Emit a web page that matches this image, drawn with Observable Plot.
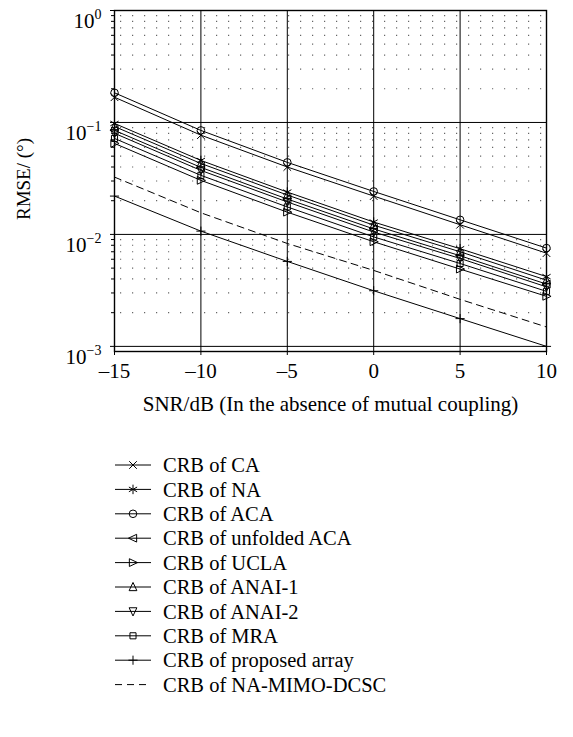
<!DOCTYPE html>
<html>
<head>
<meta charset="utf-8">
<script src="https://cdn.jsdelivr.net/npm/d3@7"></script>
<script src="https://cdn.jsdelivr.net/npm/@observablehq/plot@0.6"></script>
<style>
  body { margin: 0; background: white; }
  #chart svg { display: block; }
</style>
</head>
<body>
<div id="chart"></div>
<script>
// ---- data ----
const snr = [-15, -10, -5, 0, 5, 10];
const seriesNames = [
  "CRB of CA", "CRB of NA", "CRB of ACA", "CRB of unfolded ACA", "CRB of UCLA",
  "CRB of ANAI-1", "CRB of ANAI-2", "CRB of MRA", "CRB of proposed array", "CRB of NA-MIMO-DCSC"
];
const crbCA       = [0.168, 0.077, 0.040, 0.0220, 0.0122, 0.0068];
const crbNA       = [0.098, 0.0458, 0.0239, 0.0129, 0.00745, 0.0042];
const crbACA      = [0.184, 0.0849, 0.044, 0.0242, 0.0135, 0.00755];
const crbUnfolded = [0.085, 0.0397, 0.0207, 0.0112, 0.00645, 0.0036];
const crbUCLA     = [0.065, 0.0304, 0.0158, 0.0086, 0.0049, 0.0028];
const crbANAI1    = [0.092, 0.0430, 0.0225, 0.0121, 0.0070, 0.0039];
const crbANAI2    = [0.080, 0.0373, 0.0195, 0.0105, 0.0061, 0.0034];
const crbMRA      = [0.072, 0.0337, 0.0176, 0.0095, 0.0055, 0.0031];
const crbProposed = [0.022, 0.0107, 0.00574, 0.00314, 0.00177, 0.0010];
const crbMIMO     = [0.0325, 0.0156, 0.0083, 0.00477, 0.00263, 0.00149];
const yMajor = [1, 0.1, 0.01, 0.001];
const yMinor = [
  0.002, 0.003, 0.004, 0.005, 0.006, 0.007, 0.008, 0.009,
  0.02, 0.03, 0.04, 0.05, 0.06, 0.07, 0.08, 0.09,
  0.2, 0.3, 0.4, 0.5, 0.6, 0.7, 0.8, 0.9
];

const allSeries = [crbCA, crbNA, crbACA, crbUnfolded, crbUCLA, crbANAI1, crbANAI2, crbMRA, crbProposed, crbMIMO];
const table = [];
seriesNames.forEach((name, i) => {
  snr.forEach((s, j) => table.push({series: name, snr: s, value: allSeries[i][j]}));
});

// ---- symbols ----
function rad(size) { return Math.sqrt(size / Math.PI); }
const triLeft = {draw(c, size) { const r = rad(size) * 1.2; c.moveTo(-r, 0); c.lineTo(r * 0.8, -r * 0.85); c.lineTo(r * 0.8, r * 0.85); c.closePath(); }};
const triRight = {draw(c, size) { const r = rad(size) * 1.2; c.moveTo(r, 0); c.lineTo(-r * 0.8, -r * 0.85); c.lineTo(-r * 0.8, r * 0.85); c.closePath(); }};
const triUp = {draw(c, size) { const r = rad(size) * 1.2; c.moveTo(0, -r); c.lineTo(-r * 0.85, r * 0.8); c.lineTo(r * 0.85, r * 0.8); c.closePath(); }};
const triDown = {draw(c, size) { const r = rad(size) * 1.2; c.moveTo(0, r); c.lineTo(-r * 0.85, -r * 0.8); c.lineTo(r * 0.85, -r * 0.8); c.closePath(); }};
const squareS = {draw(c, size) { const r = rad(size) * 0.8; c.rect(-r, -r, 2 * r, 2 * r); }};
const circleS = {draw(c, size) { const r = rad(size); c.moveTo(r, 0); c.arc(0, 0, r, 0, 2 * Math.PI); }};
const timesS = {draw(c, size) { const r = rad(size) * 1.0; c.moveTo(-r, -r); c.lineTo(r, r); c.moveTo(r, -r); c.lineTo(-r, r); }};
const plusS = {draw(c, size) { const r = rad(size) * 1.2; c.moveTo(-r, 0); c.lineTo(r, 0); c.moveTo(0, -r); c.lineTo(0, r); }};
const asteriskS = {draw(c, size) {
  const r = rad(size) * 1.25;
  for (let k = 0; k < 3; k++) {
    const a = Math.PI / 2 + k * Math.PI / 3;
    c.moveTo(r * Math.cos(a), r * Math.sin(a)); c.lineTo(-r * Math.cos(a), -r * Math.sin(a));
  }
}};
const symbolRange = [timesS, asteriskS, circleS, triLeft, triRight, triUp, triDown, squareS, plusS, null];
const markerNames = seriesNames.slice(0, 9);

const FONT = "'Liberation Serif', 'DejaVu Serif', serif";

const plot = Plot.plot({
  width: 573,
  height: 420,
  marginLeft: 114,
  marginRight: 27,
  marginTop: 10,
  marginBottom: 69,
  style: {fontFamily: FONT, fontSize: "21px", color: "black", background: "white"},
  x: {domain: [-15, 10]},
  y: {type: "log", domain: [0.0009, 1]},
  symbol: {domain: markerNames, range: symbolRange.slice(0, 9)},
  marks: [
    Plot.ruleY(yMinor, {stroke: "#666", strokeWidth: 1.2, strokeDasharray: "1.2,10.8", strokeDashoffset: -6}),
    Plot.ruleX(snr, {stroke: "black", strokeWidth: 1}),
    Plot.ruleY(yMajor, {stroke: "black", strokeWidth: 1}),
    Plot.line(table.filter(d => d.series !== "CRB of NA-MIMO-DCSC"), {x: "snr", y: "value", z: "series", stroke: "black", strokeWidth: 1}),
    Plot.line(table.filter(d => d.series === "CRB of NA-MIMO-DCSC"), {x: "snr", y: "value", stroke: "black", strokeWidth: 1, strokeDasharray: "7,5"}),
    Plot.dot(table.filter(d => markerNames.includes(d.series)), {x: "snr", y: "value", symbol: "series", r: 3.8, stroke: "black", strokeWidth: 1, fill: "none"}),
    Plot.frame({stroke: "black", strokeWidth: 1.4}),
    Plot.axisX({ticks: snr, tickSize: 4, tickPadding: 8, tickFormat: d => d < 0 ? "\u2013" + (-d) : String(d), label: null, fontSize: 21}),
    Plot.axisY({ticks: yMinor, tickSize: 3, tickFormat: () => "", label: null}),
    Plot.axisY({ticks: yMajor, tickSize: 4, tickPadding: 9, tickFormat: d => "10^" + Math.round(Math.log10(d)), label: null, fontSize: 21}),
    Plot.text(["RMSE/ (°)"], {frameAnchor: "left", textAnchor: "middle", text: d => d, rotate: -90, dx: -91, dy: -2, fontSize: 19, fill: "black"}),
    Plot.text(["SNR/dB (In the absence of mutual coupling)"], {frameAnchor: "bottom", textAnchor: "middle", text: d => d, dy: 59, fontSize: 21, fill: "black"})
  ]
});

// superscripts on log tick labels
d3.select(plot).selectAll('g[aria-label="y-axis tick label"] text').each(function() {
  const t = this.textContent;
  if (!t.includes("^")) return;
  const [base, exp] = t.split("^");
  const sel = d3.select(this);
  sel.text(null);
  sel.attr("dy", "0.5em");
  sel.append("tspan").text(base);
  sel.append("tspan").attr("dy", "-0.6em").attr("font-size", "14px").text(exp.replace("-", "\u2212"));
});

document.getElementById("chart").appendChild(plot);

// ---- legend ----
const legendHeight = 317;
const leg = d3.select("#chart").append("svg")
  .attr("width", 573).attr("height", legendHeight)
  .attr("font-family", FONT).attr("font-size", 20.5);
const y0 = 45, dy = 24.4;
seriesNames.forEach((name, i) => {
  const g = leg.append("g").attr("transform", `translate(0,${y0 + i * dy})`);
  const dashed = i === 9;
  g.append("line").attr("x1", 115).attr("x2", 151).attr("y1", 0).attr("y2", 0)
    .attr("stroke", "black").attr("stroke-width", 1)
    .attr("stroke-dasharray", dashed ? "7,5" : null);
  if (symbolRange[i]) {
    g.append("path").attr("transform", "translate(133,0)")
      .attr("d", d3.symbol(symbolRange[i], Math.PI * 3.8 * 3.8)())
      .attr("fill", "none").attr("stroke", "black").attr("stroke-width", 1);
  }
  g.append("text").attr("x", 163).attr("y", 0).attr("dy", "0.35em").attr("fill", "black").text(name);
});
</script>
</body>
</html>
